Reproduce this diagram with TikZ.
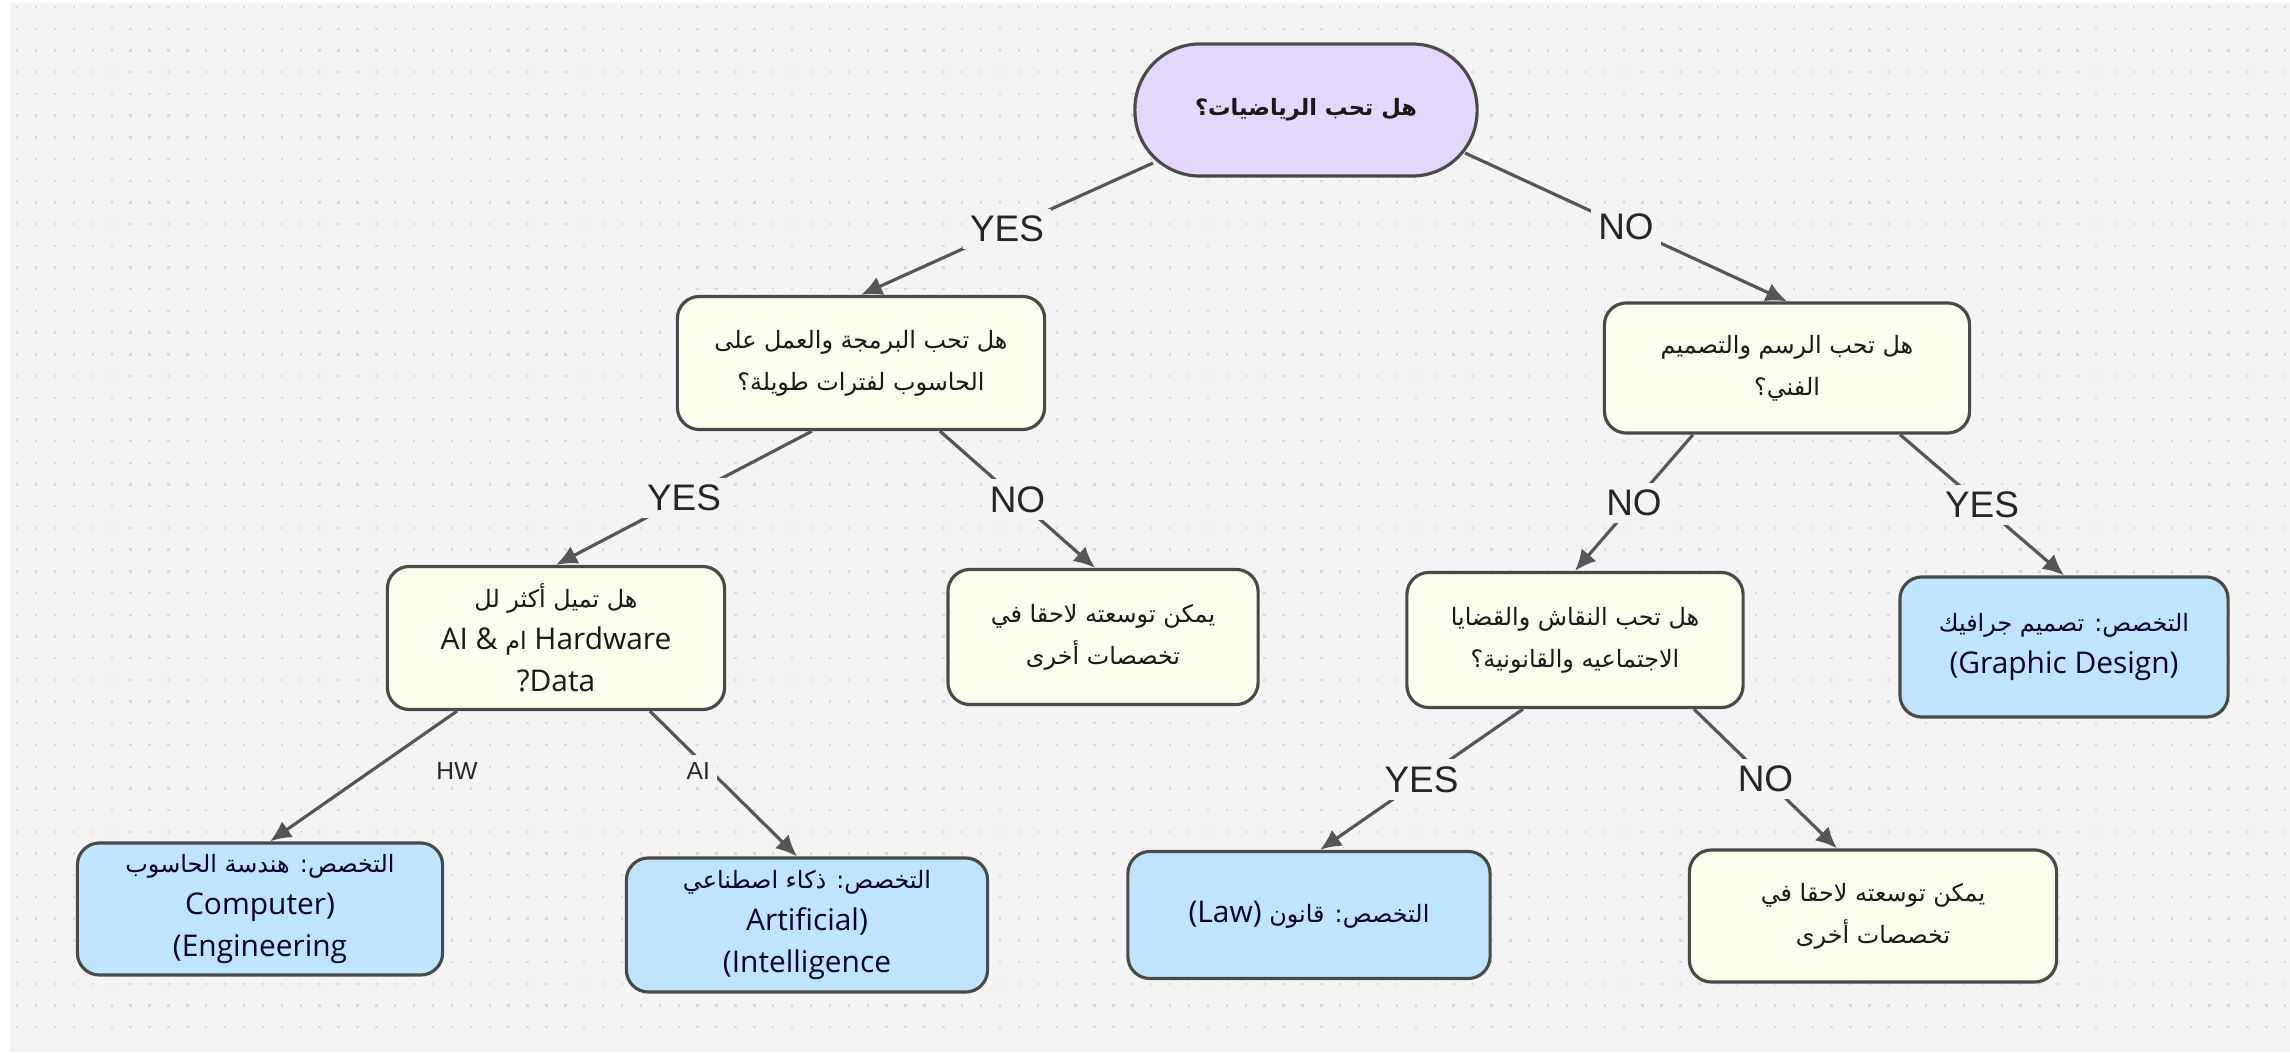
\documentclass[tikz,border=0pt]{standalone}
\usepackage{fontspec}
\setmainfont{Open Sans}
\newfontfamily\arabicfont[Script=Arabic]{DejaVu Sans}
\newfontfamily\labelfont{Liberation Sans}
\TeXXeTstate=1
\usetikzlibrary{arrows.meta,calc}

\definecolor{bgcol}{HTML}{F4F4F4}
\definecolor{dotcol}{HTML}{D9D9D9}
\definecolor{rootfill}{HTML}{E3D7FB}
\definecolor{askfill}{HTML}{FDFDEE}
\definecolor{majorfill}{HTML}{BEE5FB}
\definecolor{edgecol}{HTML}{565656}
\definecolor{rimcol}{HTML}{4A4A4A}

\newcommand{\artext}[1]{{\arabicfont\fontsize{6.8}{12}\selectfont\beginR #1\endR}}

\tikzset{
  ask/.style={draw=rimcol, line width=0.9pt, fill=askfill, rounded corners=2.2mm,
    align=center, text=black!90, font=\fontsize{8.5}{12}\selectfont, inner sep=1mm},
  root/.style={ask, fill=rootfill, rounded corners=6.5mm},
  major/.style={ask, fill=majorfill, text=black!80!blue},
  link/.style={draw=edgecol, line width=0.9pt, >={Latex[length=6pt,width=5.5pt]}, ->},
  answer/.style={fill=bgcol, font=\labelfont\fontsize{10.5}{12}\selectfont, text=black!85, inner sep=2pt},
  branch/.style={answer, font=\labelfont\fontsize{7}{8}\selectfont}
}

\begin{document}
\begin{tikzpicture}[x=0.01cm, y=-0.01cm]

\useasboundingbox (0,0) rectangle (2290,1055);
\fill[white] (0,0) rectangle (2290,1055);
\fill[bgcol] (10,3) rectangle (2290,1052);
% dotted grid
\foreach \i in {0,...,120}
  \foreach \j in {0,...,47}
    \fill[dotcol] (16+\i*18.9,6+\j*21.7) rectangle ++(2.4,2.4);

% questions
\node[root, minimum width=34.2mm, minimum height=13.2mm] (math) at (1306,110)
  {{\arabicfont\bfseries\fontsize{6.4}{12}\selectfont\beginR هل تحب الرياضيات؟\endR}};
\node[ask, minimum width=36.7mm, minimum height=13.3mm] (prog) at (861,363)
  {\artext{هل تحب البرمجة والعمل على}\\\artext{الحاسوب لفترات طويلة؟}};
\node[ask, minimum width=36.5mm, minimum height=13mm] (art) at (1787,368)
  {\artext{هل تحب الرسم والتصميم}\\\artext{الفني؟}};
\node[ask, minimum width=33.7mm, minimum height=14.3mm] (hwai) at (556,638)
  {\artext{هل تميل أكثر لل}\\AI \& \artext{ام} Hardware\\?Data};
\node[ask, minimum width=31mm, minimum height=13.5mm] (later1) at (1103,637)
  {\artext{يمكن توسعته لاحقا في}\\\artext{تخصصات أخرى}};
\node[ask, minimum width=33.6mm, minimum height=13.5mm] (debate) at (1575,640)
  {\artext{هل تحب النقاش والقضايا}\\\artext{الاجتماعيه والقانونية؟}};

% majors
\node[major, minimum width=32.8mm, minimum height=14mm] (graphic) at (2064,647)
  {\artext{التخصص: تصميم جرافيك}\\(Graphic Design)};
\node[major, minimum width=36.5mm, minimum height=13.2mm] (compeng) at (260,909)
  {\artext{التخصص: هندسة الحاسوب}\\Computer)\\(Engineering};
\node[major, minimum width=36.1mm, minimum height=13.4mm] (ai) at (807,925)
  {\artext{التخصص: ذكاء اصطناعي}\\Artificial)\\(Intelligence};
\node[major, minimum width=36.2mm, minimum height=12.7mm] (law) at (1309,915)
  {\artext{التخصص: قانون \beginL{\rmfamily\fontsize{8.5}{12}\selectfont (Law)}\endL}};
\node[ask, minimum width=36.7mm, minimum height=13.2mm] (later2) at (1873,916)
  {\artext{يمكن توسعته لاحقا في}\\\artext{تخصصات أخرى}};

% answers
\draw [link] ($(math.center)+(-153,53)$) -- node[answer]{YES} (prog.north);
\draw [link] ($(math.center)+(159,43)$) -- node[answer]{NO} (art.north);
\draw [link] ($(prog.south)+(-49,0)$) -- node[answer]{YES} (hwai.north);
\draw [link] ($(prog.south)+(79,0)$) -- node[answer]{NO} ($(later1.north)+(-8,0)$);
\draw [link] ($(art.south)+(-94,0)$) -- node[answer]{NO} (debate.north);
\draw [link] ($(art.south)+(113,0)$) -- node[answer]{YES} (graphic.north);
\draw [link] ($(hwai.south)+(-99,0)$) -- node[branch, at start, yshift=-6mm]{HW} ($(compeng.north)+(10,0)$);
\draw [link] ($(hwai.south)+(94,0)$) -- node[branch, pos=0.41, xshift=-1.2mm]{AI} ($(ai.north)+(-10,0)$);
\draw [link] ($(debate.south)+(-52,0)$) -- node[answer]{YES} ($(law.north)+(11,0)$);
\draw [link] ($(debate.south)+(119,0)$) -- node[answer]{NO} ($(later2.north)+(-36,0)$);

\end{tikzpicture}
\end{document}
